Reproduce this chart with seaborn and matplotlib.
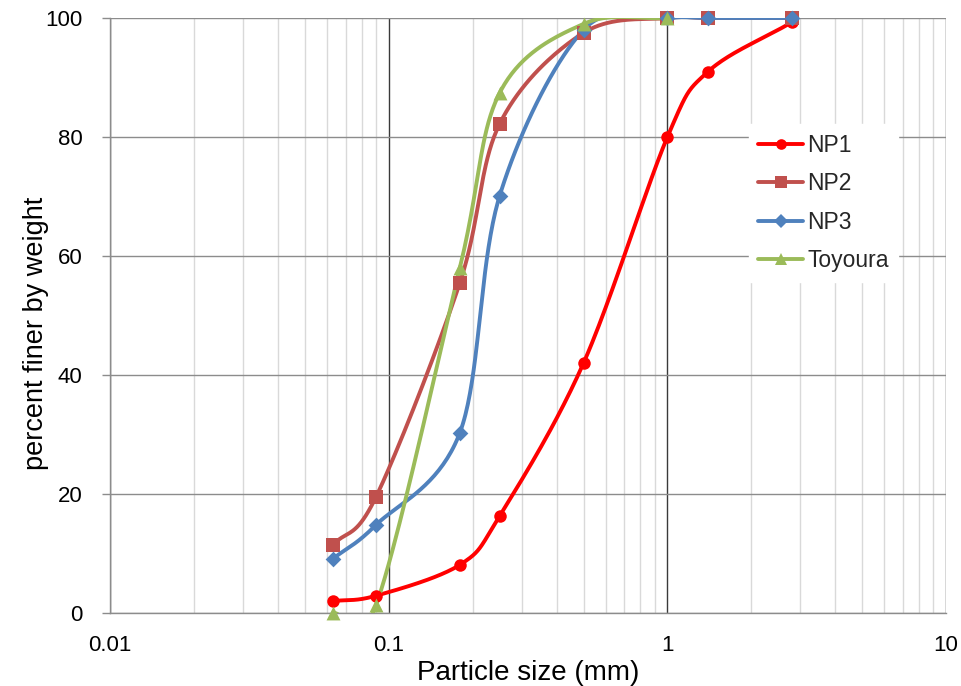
import numpy as np
import pandas as pd
import matplotlib
matplotlib.use("Agg")
import matplotlib.pyplot as plt
from matplotlib.lines import Line2D
from matplotlib.ticker import FixedLocator, NullFormatter
import seaborn as sns

# Grading data: sieve size (mm) vs. percent finer by weight
size_np = [0.063, 0.09, 0.18, 0.25, 0.5, 1.0, 1.4, 2.8]
np1 = [2.0, 2.9, 8.1, 16.3, 42.0, 80.0, 91.0, 99.3]
np2 = [11.4, 19.5, 55.5, 82.2, 97.5, 100.0, 100.0, 100.0]
np3 = [9.1, 14.8, 30.3, 70.1, 98.0, 100.0, 100.0, 100.0]
size_toyoura = [0.063, 0.09, 0.18, 0.25, 0.5, 1.0]
toyoura = [0.0, 1.3, 58.0, 87.4, 99.0, 100.0]

series_names = ["NP1", "NP2", "NP3", "Toyoura"]
series_sizes = [size_np, size_np, size_np, size_toyoura]
series_values = [np1, np2, np3, toyoura]
colors = ["#FF0000", "#C0504D", "#4F81BD", "#9BBB59"]
markers = ["o", "s", "D", "^"]
msizes = [9, 10, 8, 10]


def smooth_curve(xs, ys, n=40):
    """Catmull-Rom spline through the points in (log10 x, y) space."""
    lx = np.log10(np.asarray(xs, float))
    y = np.asarray(ys, float)
    px = np.concatenate([[2 * lx[0] - lx[1]], lx, [2 * lx[-1] - lx[-2]]])
    py = np.concatenate([[2 * y[0] - y[1]], y, [2 * y[-1] - y[-2]]])
    outx, outy = [], []
    t = np.linspace(0, 1, n, endpoint=False)
    for i in range(1, len(px) - 2):
        p0, p1, p2, p3 = (np.array([px[j], py[j]]) for j in range(i - 1, i + 3))
        # cubic Bezier with Catmull-Rom tangents
        c1 = p1 + (p2 - p0) / 6.0
        c2 = p2 - (p3 - p1) / 6.0
        b = ((1 - t) ** 3)[:, None] * p1 + (3 * (1 - t) ** 2 * t)[:, None] * c1 \
            + (3 * (1 - t) * t ** 2)[:, None] * c2 + (t ** 3)[:, None] * p2
        outx.append(b[:, 0])
        outy.append(b[:, 1])
    outx.append([lx[-1]])
    outy.append([y[-1]])
    return 10 ** np.concatenate(outx), np.concatenate(outy)


sns.set_theme(style="white")
plt.rcParams["font.family"] = ["Liberation Sans", "DejaVu Sans"]

fig = plt.figure(figsize=(9.61, 6.86), dpi=100)
ax = fig.add_axes([0.1145, 0.1064, 0.8700, 0.8674])

ax.set_xscale("log")
ax.set_xlim(0.01, 10)
ax.set_ylim(0, 100)

# grid: light minor verticals, darker decade lines, gray horizontals
ax.xaxis.set_minor_locator(FixedLocator(
    [m * 10.0 ** e for e in (-2, -1, 0) for m in range(2, 10)]))
ax.xaxis.set_minor_formatter(NullFormatter())
ax.grid(which="minor", axis="x", color="#D9D9D9", linewidth=1.0)
ax.grid(which="major", axis="x", color="#3A3A3A", linewidth=1.0)
ax.grid(which="major", axis="y", color="#8C8C8C", linewidth=1.0)
ax.set_axisbelow(True)

handles = []
for name, xs, ys, c, m, ms in zip(series_names, series_sizes, series_values,
                                   colors, markers, msizes):
    sx, sy = smooth_curve(xs, ys)
    sns.lineplot(x=sx, y=sy, ax=ax, color=c, linewidth=2.8, sort=False,
                 estimator=None, zorder=3)
    sns.scatterplot(x=xs, y=ys, ax=ax, color=c, marker=m, s=ms ** 2,
                    edgecolor=c, linewidth=0, zorder=4, clip_on=False)
    handles.append(Line2D([], [], color=c, linewidth=2.8, marker=m,
                          markersize=ms * 0.85, markeredgewidth=0))

ax.set_xticks([0.01, 0.1, 1, 10])
ax.set_xticklabels(["0.01", "0.1", "1", "10"])
ax.set_yticks([0, 20, 40, 60, 80, 100])
ax.tick_params(axis="x", which="both", length=0, labelsize=16, pad=16,
               colors="#000000")
ax.tick_params(axis="y", which="major", length=6, width=1, color="#8C8C8C",
               direction="out", labelsize=16, pad=14, left=True,
               labelcolor="#000000")

ax.spines["right"].set_visible(False)
ax.spines["top"].set_visible(False)
for side in ("left", "bottom"):
    ax.spines[side].set_color("#8C8C8C")
    ax.spines[side].set_linewidth(1.0)

ax.set_xlabel("Particle size (mm)", fontsize=20, labelpad=3, color="#000000")
ax.set_ylabel("percent finer by weight", fontsize=19.5, color="#000000")
ax.yaxis.set_label_coords(-0.0730, 0.47)

leg = ax.legend(handles, series_names, loc="upper left",
                bbox_to_anchor=(0.764, 0.821), frameon=True, fontsize=16.5,
                handlelength=1.97, handletextpad=0.17, labelspacing=0.68,
                borderpad=0.4, borderaxespad=0)
leg.get_frame().set_facecolor("white")
leg.get_frame().set_edgecolor("white")
leg.get_frame().set_alpha(1.0)
leg.get_frame().set_boxstyle("square", pad=0)
leg.set_zorder(5)

fig.savefig("out.png", dpi=100, facecolor="white")
